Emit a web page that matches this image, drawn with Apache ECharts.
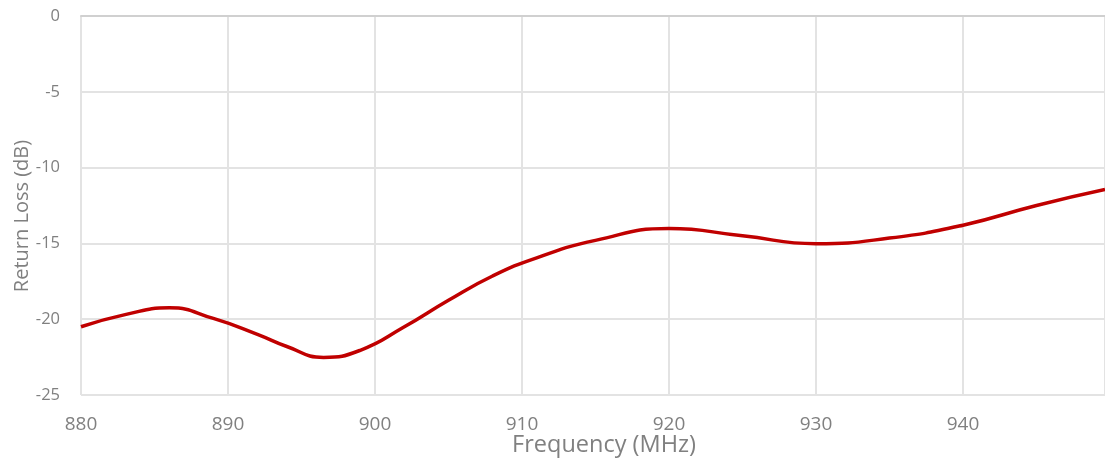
<!DOCTYPE html>
<html>
<head>
<meta charset="utf-8">
<script src="https://cdn.jsdelivr.net/npm/echarts@6/dist/echarts.min.js"></script>
<style>html,body{margin:0;padding:0;background:#fff}#c{width:1105px;height:464px}</style>
</head>
<body>
<div id="c"></div>
<script>
const freq = [880, 883, 886, 889, 892, 894, 896.5, 899, 902, 905, 908, 911, 915, 920, 925, 930, 935, 940, 945, 949.66];
const returnLoss = [-20.5, -19.7, -19.25, -19.95, -21.0, -21.8, -22.52, -22.05, -20.5, -18.75, -17.15, -15.95, -14.8, -14.02, -14.5, -15.02, -14.65, -13.8, -12.5, -11.45];
const xTicks = [880, 890, 900, 910, 920, 930, 940];
const yTicks = [0, -5, -10, -15, -20, -25];

const chart = echarts.init(document.getElementById('c'));
const font = '"Open Sans", sans-serif';
chart.setOption({
  animation: false,
  grid: { left: 81, right: 0, top: 16, bottom: 69, outerBoundsMode: 'none', containLabel: false },
  xAxis: {
    type: 'value', min: 880, max: 949.66, interval: 10,
    name: 'Frequency (MHz)', nameLocation: 'middle', nameGap: 38, nameMoveOverlap: false,
    nameTextStyle: { color: '#808080', fontSize: 23.5, fontFamily: font, padding: [0, 0, 0, 22] },
    axisLine: { show: true, lineStyle: { color: '#d0d0d0', width: 2 } },
    axisTick: { show: false },
    axisLabel: { color: '#808080', fontSize: 19, fontFamily: font, margin: 20,
      formatter: v => xTicks.includes(v) ? String(v) : '' },
    splitLine: { show: true, lineStyle: { color: '#e3e3e3', width: 2 } }
  },
  yAxis: {
    type: 'value', min: -25, max: 0, interval: 5,
    name: 'Return Loss (dB)', nameLocation: 'middle', nameGap: 49, nameMoveOverlap: false,
    nameTextStyle: { color: '#808080', fontSize: 20, fontFamily: font, padding: [0, 21, 0, 0] },
    axisLine: { show: false }, axisTick: { show: false },
    axisLabel: { color: '#808080', fontSize: 16.5, fontFamily: font, margin: 21,
      formatter: v => yTicks.includes(v) ? String(v) : '' },
    splitLine: { show: true, lineStyle: { color: '#e3e3e3', width: 2 } }
  },
  series: [{
    type: 'line', smooth: 0.5, symbol: 'none',
    data: freq.map((f, i) => [f, returnLoss[i]]),
    lineStyle: { color: '#c00000', width: 3.5 }
  }]
});
</script>
</body>
</html>
